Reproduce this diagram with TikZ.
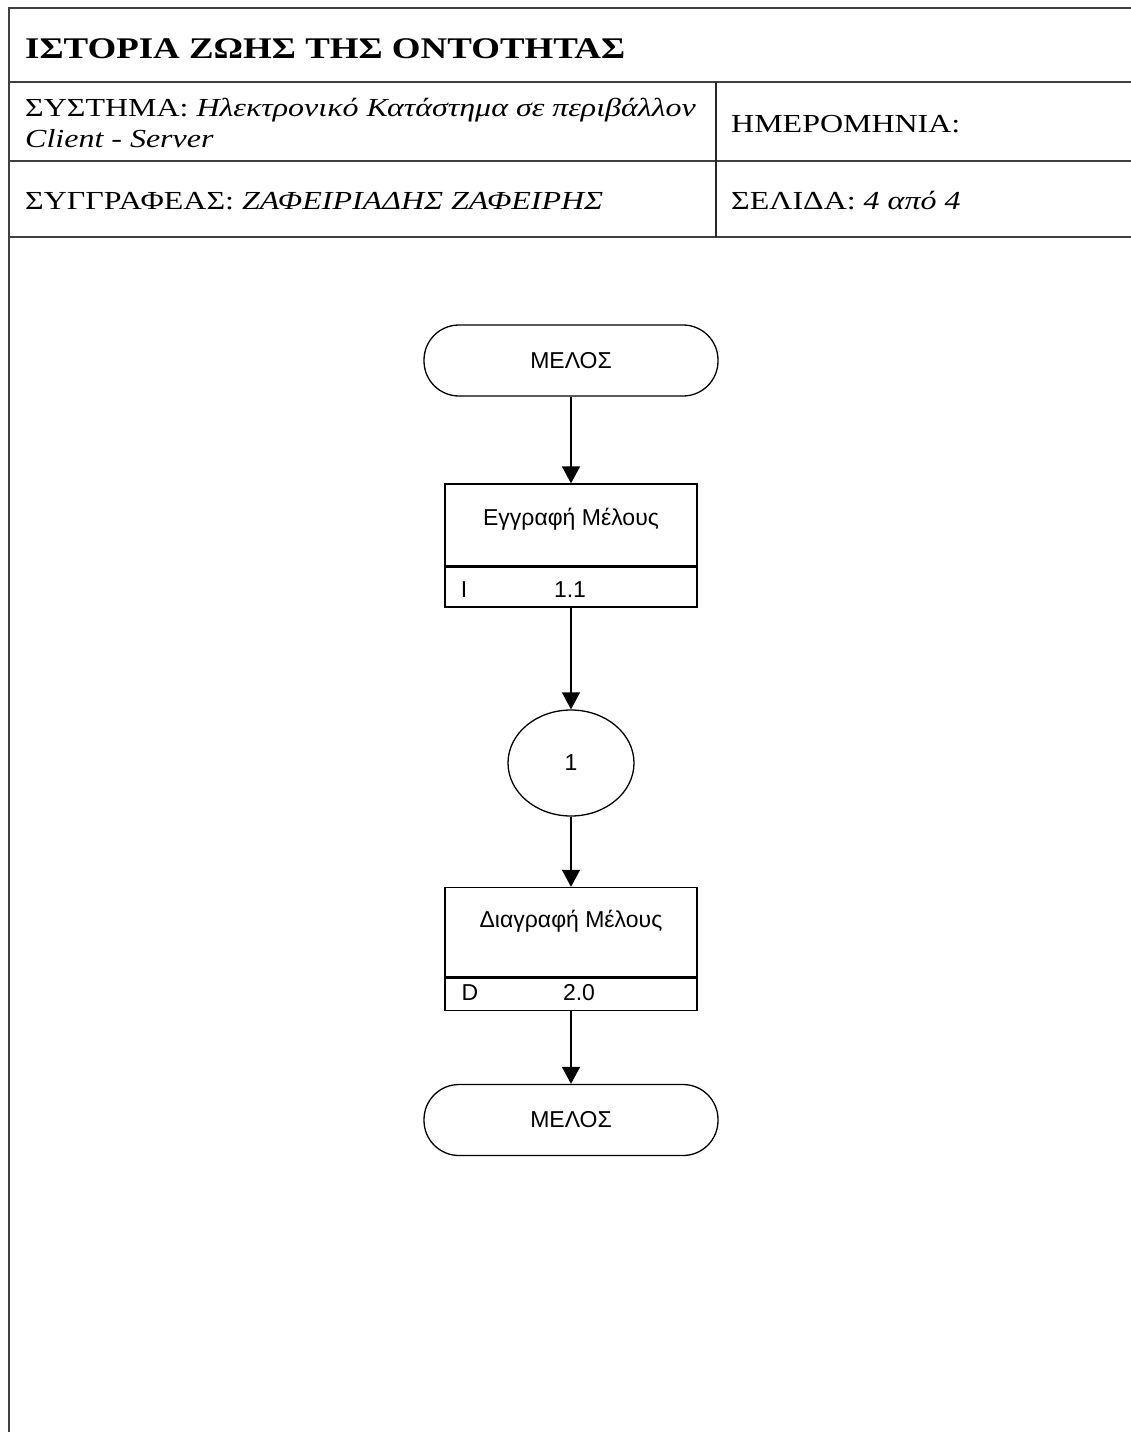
\documentclass[tikz,border=0pt]{standalone}
\usepackage{fontspec}
\setmainfont{Liberation Serif}[FakeStretch=1.23]
\newfontfamily\diagfont{Liberation Sans}
\usetikzlibrary{arrows.meta,shapes.geometric}
\begin{document}
\begin{tikzpicture}[x=1pt,y=-1pt,
  frameline/.style={line width=2pt,draw=black!75},
  hdr/.style={font=\fontsize{26}{30}\selectfont,inner sep=0pt,anchor=base west},
  terminal/.style={draw,line width=1.3pt,rounded corners=35pt,minimum width=294pt,minimum height=71pt,font=\diagfont\fontsize{23}{27}\selectfont},
  procbox/.style={draw,line width=1.3pt,minimum width=252pt,minimum height=123pt},
  ovalnode/.style={draw,line width=1.3pt,ellipse,minimum width=126pt,minimum height=106pt,font=\diagfont\fontsize{23}{27}\selectfont},
  dtext/.style={font=\diagfont\fontsize{23}{27}\selectfont,inner sep=0pt},
  flow/.style={line width=1.3pt,-{Triangle[width=18pt,length=17pt]}}
]
\useasboundingbox (0,0) rectangle (1131,1432);
\fill[white] (0,0) rectangle (1131,1432);

% header frame
\draw[frameline] (1131,8) -- (9,8) -- (9,1432);
\draw[frameline] (9,82) -- (1131,82);
\draw[frameline] (9,161) -- (1131,161);
\draw[frameline] (9,237) -- (1131,237);
\draw[line width=1.3pt,draw=black!85] (716,82) -- (716,237);

% header texts
\node[hdr,font=\bfseries\fontsize{30}{34}\selectfont] (title) at (25,58) {ΙΣΤΟΡΙΑ ΖΩΗΣ ΤΗΣ ΟΝΤΟΤΗΤΑΣ};
\node[hdr] (system) at (25,116) {ΣΥΣΤΗΜΑ: \textit{Ηλεκτρονικό Κατάστημα σε περιβάλλον}};
\node[hdr] (system2) at (25,147) {\textit{Client - Server}};
\node[hdr] (date) at (731,132) {ΗΜΕΡΟΜΗΝΙΑ:};
\node[hdr] (author) at (25,209) {ΣΥΓΓΡΑΦΕΑΣ: \textit{ΖΑΦΕΙΡΙΑΔΗΣ ΖΑΦΕΙΡΗΣ}};
\node[hdr] (page) at (731,209) {ΣΕΛΙΔΑ: \textit{4 από 4}};

% flow diagram
\node[terminal] (start) at (571,360.5) {ΜΕΛΟΣ};

\node[procbox] (reg) at (571,545.5) {};
\draw[line width=3pt] (reg.west |- 0,566) -- (reg.east |- 0,566);
\node[dtext] (regname) at (571,519) {Εγγραφή Μέλους};
\node[dtext] (regtype) at (464,590) {I};
\node[dtext] (regnum) at (570,590) {1.1};

\node[ovalnode] (state) at (571,763) {1};

\node[procbox] (del) at (571,949) {};
\draw[line width=3pt] (del.west |- 0,977) -- (del.east |- 0,977);
\node[dtext] (delname) at (571,921) {Διαγραφή Μέλους};
\node[dtext] (deltype) at (470,993) {D};
\node[dtext] (delnum) at (579,993) {2.0};

\node[terminal] (end) at (571,1120) {ΜΕΛΟΣ};

\draw[flow] (start) -- (reg);
\draw[flow] (reg) -- (state);
\draw[flow] (state) -- (del);
\draw[flow] (del) -- (end);
\end{tikzpicture}
\end{document}
